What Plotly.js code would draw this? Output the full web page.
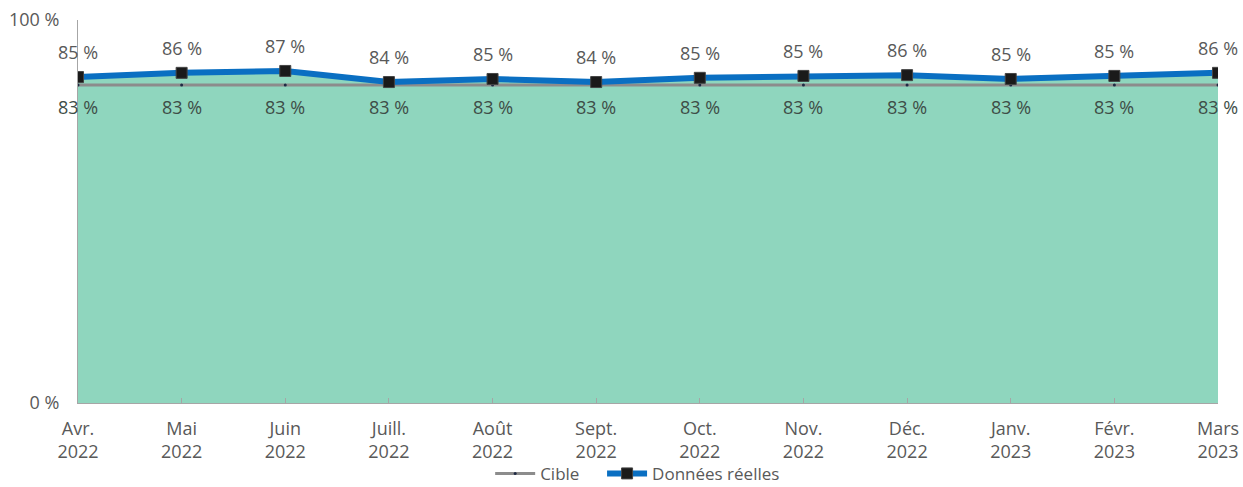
<!DOCTYPE html>
<html><head><meta charset="utf-8">
<script src="https://cdn.plot.ly/plotly-3.0.1.min.js"></script>
<style>html,body{margin:0;padding:0;background:#fff}#chart{width:1243px;height:487px}</style>
</head><body><div id="chart"></div>
<script>
const categories = ["Avr.<br>2022","Mai<br>2022","Juin<br>2022","Juill.<br>2022","Août<br>2022","Sept.<br>2022","Oct.<br>2022","Nov.<br>2022","Déc.<br>2022","Janv.<br>2023","Févr.<br>2023","Mars<br>2023"];
const cible = [83,83,83,83,83,83,83,83,83,83,83,83];
const reelles = [85.1,86.2,86.7,83.8,84.6,83.8,84.9,85.4,85.6,84.6,85.4,86.2];
const yTickVals = [0,100];
const yTickText = ["0 %","100 %"];

const FONT = "'Open Sans', Lato, sans-serif";
const TXT = "#595959";
const FS = 18;

const traces = [
  {x: categories, y: reelles, type:'scatter', mode:'none', fill:'tozeroy', fillcolor:'#8fd6be', showlegend:false, hoverinfo:'skip'},
  {x: categories, y: cible, type:'scatter', mode:'lines+markers', name:'Cible\u00a0\u00a0\u00a0\u00a0',
   line:{color:'#8c8c8c', width:3}, marker:{color:'#1f2a44', size:3}},
  {x: categories, y: reelles, type:'scatter', mode:'lines+markers', name:'Données réelles',
   line:{color:'#0a6fc2', width:6}, marker:{symbol:'square', color:'#1a1a1a', size:11, line:{color:'#444', width:1}}}
];

const annotations = [];
categories.forEach((c,i)=>{
  annotations.push({x:c, y:reelles[i], text: Math.round(reelles[i]) + " %", showarrow:false, yshift:25, font:{family:FONT, size:FS, color:TXT}});
  annotations.push({x:c, y:cible[i], text: cible[i] + " %", showarrow:false, yshift:-22, font:{family:FONT, size:FS, color:'#3e4d47'}});
});

const layout = {
  width:1243, height:487,
  margin:{l:78, r:25, t:20, b:84, autoexpand:false},
  paper_bgcolor:'#fff', plot_bgcolor:'#fff',
  font:{family:FONT, size:FS, color:TXT},
  showlegend:true,
  legend:{orientation:'h', x:0.513, xanchor:'center', xref:'container', yref:'container', y:0.027, yanchor:'middle', bgcolor:'rgba(0,0,0,0)',
    font:{family:FONT, size:17, color:TXT}, itemwidth:40},
  xaxis:{type:'category', range:[0,11], showgrid:false, zeroline:false, showline:true, linecolor:'#a6a6a6', linewidth:1, automargin:false,
    ticks:'inside', ticklen:5, tickcolor:'#a6a6a6', ticklabelstandoff:9, tickfont:{family:FONT, size:FS, color:TXT}, fixedrange:true},
  yaxis:{range:[0,100], tickvals:yTickVals, ticktext:yTickText, showgrid:false, zeroline:false, showline:true, linecolor:'#a6a6a6', linewidth:1, automargin:false,
    ticks:'inside', ticklen:5, tickcolor:'#a6a6a6', ticklabelstandoff:14, tickfont:{family:FONT, size:FS, color:TXT}, fixedrange:true},
  annotations: annotations
};
Plotly.newPlot('chart', traces, layout, {displayModeBar:false, staticPlot:true});
</script></body></html>
